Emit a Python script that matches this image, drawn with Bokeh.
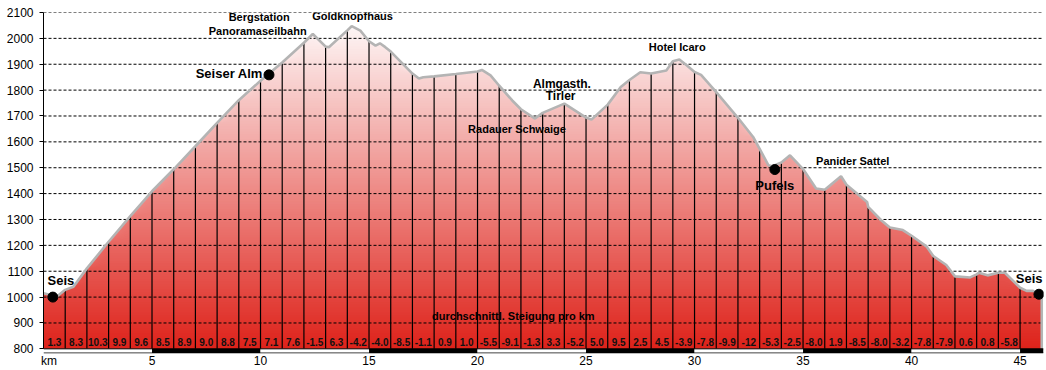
import numpy as np
from bokeh.plotting import figure
from bokeh.models import Range1d, FixedTicker
from bokeh.core.properties import value
from bokeh.embed import file_html
from bokeh.resources import INLINE

# ---------------- data ----------------
dist_km = [0, 0.62, 1, 1.38, 2, 3, 4, 5, 6, 7, 8, 9, 10, 11, 12, 12.41, 13, 13.15,
           14, 14.2, 14.6, 15, 15.3, 15.5, 15.75, 16, 17, 17.3, 17.5, 18, 19, 20,
           20.2, 20.6, 21, 21.6, 22, 22.65, 23, 24, 25, 25.25, 26, 26.6, 27, 27.5,
           28, 28.7, 29, 29.3, 29.65, 30, 30.3, 31, 32, 32.7, 33, 33.4, 33.6, 34,
           34.4, 35, 35.6, 36, 36.75, 37, 37.95, 38, 38.6, 39, 39.6, 40, 40.7, 41,
           41.6, 42, 42.7, 43, 43.1, 43.5, 44, 44.3, 45, 45.3, 45.6, 46.0]
elev_m = [1015, 1002, 1028, 1040, 1111, 1214, 1313, 1409, 1494, 1583, 1673, 1761,
          1836, 1907, 1983, 2017, 1968, 1966, 2031, 2047, 2030, 1989, 1972, 1981,
          1966, 1949, 1864, 1845, 1850, 1853, 1862, 1872, 1878, 1857, 1817, 1760,
          1726, 1690, 1712, 1748, 1694, 1686, 1744, 1812, 1839, 1869, 1864, 1876,
          1912, 1918, 1895, 1870, 1859, 1792, 1693, 1619, 1573, 1510, 1506, 1520,
          1548, 1495, 1420, 1415, 1467, 1434, 1368, 1349, 1297, 1269, 1259, 1237,
          1195, 1159, 1124, 1080, 1076, 1088, 1094, 1084, 1094, 1094, 1036, 1024,
          1024, 1008]

km_marks = list(range(1, 46))
km_mark_elev = [1028, 1111, 1214, 1313, 1409, 1494, 1583, 1673, 1761, 1836, 1907,
                1983, 1968, 2031, 1989, 1949, 1864, 1853, 1862, 1872, 1817, 1726,
                1712, 1748, 1694, 1744, 1839, 1864, 1912, 1870, 1792, 1693, 1573,
                1520, 1495, 1415, 1434, 1349, 1269, 1237, 1159, 1080, 1088, 1094, 1036]

grade_labels = ["1.3", "8.3", "10.3", "9.9", "9.6", "8.5", "8.9", "9.0", "8.8", "7.5",
                "7.1", "7.6", "-1.5", "6.3", "-4.2", "-4.0", "-8.5", "-1.1", "0.9", "1.0",
                "-5.5", "-9.1", "-1.3", "3.3", "-5.2", "5.0", "9.5", "2.5", "4.5", "-3.9",
                "-7.8", "-9.9", "-12", "-5.3", "-2.5", "-8.0", "1.9", "-8.5", "-8.0", "-3.2",
                "-7.8", "-7.9", "0.6", "0.8", "-5.8"]

y_ticks = list(range(800, 2101, 100))
x_ticks = [0.25, 5, 10, 15, 20, 25, 30, 35, 40, 45]
x_tick_labels = {0.25: "km"}

poi_km = [0.43, 10.39, 33.7, 45.87]
poi_elev = [1000, 1859, 1493, 1011]

label_text = ["Seis", "Seiser Alm", "Pufels", "Seis"]
label_km = [0.8, 8.56, 33.7, 45.42]
label_elev = [1066, 1866, 1432, 1070]

small_text = ["Bergstation", "Panoramaseilbahn", "Goldknopfhaus", "Hotel Icaro",
              "Radauer Schwaige", "Panider Sattel", "durchschnittl. Steigung pro km"]
small_km = [9.94, 9.87, 14.24, 29.2, 21.82, 37.29, 21.65]
small_elev = [2082, 2028, 2088, 1966, 1651, 1525, 927]

mid_text = ["Almgasth.", "Tirler"]
mid_km = [23.89, 23.83]
mid_elev = [1822, 1777]

X_END = 46.08
Y_MIN, Y_MAX = 782, 2100
BASE = 800
BAR_BOTTOM = 783.8

FONT = value("Liberation Sans")

p = figure(width=1046, height=370, output_backend="svg", toolbar_location=None,
           x_range=Range1d(0, X_END), y_range=Range1d(Y_MIN, Y_MAX),
           min_border_left=43, min_border_right=3, min_border_top=12,
           min_border_bottom=14)
p.outline_line_color = None
p.background_fill_color = "white"
p.border_fill_color = "white"
p.xgrid.visible = False
p.ygrid.visible = False

x = np.array(dist_km, dtype=float)
e = np.array(elev_m, dtype=float)

# gradient fill via elevation bands
bottom_rgb = np.array([222, 34, 26], dtype=float)
top_rgb = np.array([255, 255, 255], dtype=float)
step = 10
n_bands = int(np.ceil((e.max() - BASE) / step)) + 1
for k in range(n_bands - 1, -1, -1):
    upper = BASE + (k + 1) * step
    t = (BASE + (k + 0.5) * step - BASE) / (Y_MAX - BASE)
    c = bottom_rgb + (top_rgb - bottom_rgb) * t
    col = "#%02x%02x%02x" % tuple(int(round(v)) for v in c)
    p.varea(x=x, y1=np.full_like(x, BASE), y2=np.minimum(e, upper), fill_color=col)

# dashed grid
gl = [v for v in y_ticks if v > BASE]
p.segment(x0=[0] * len(gl), x1=[X_END] * len(gl), y0=gl, y1=gl,
          line_color="black", line_width=1, line_dash="3 2")

# km vertical lines
p.segment(x0=km_marks, x1=km_marks, y0=[BASE] * len(km_marks), y1=km_mark_elev,
          line_color="black", line_width=1.2)

# profile outline
p.line(x=list(x) + [x[-1]], y=list(e) + [BASE], line_color="#b4b4b4", line_width=2.6)

# scale bar below the axis (alternating 5 km blocks)
lefts = list(range(0, 46, 5))
rights = [min(l + 5, X_END) for l in lefts]
cols = ["white" if i % 2 == 0 else "black" for i in range(len(lefts))]
p.quad(left=lefts, right=rights, bottom=[BAR_BOTTOM] * len(lefts), top=[BASE] * len(lefts),
       fill_color=cols, line_color=None)
p.segment(x0=[0, 0], x1=[X_END, X_END], y0=[BASE, BAR_BOTTOM], y1=[BASE, BAR_BOTTOM],
          line_color="black", line_width=1)

# points of interest
p.scatter(x=poi_km, y=poi_elev, size=10, color="black")

# labels
p.text(x=label_km, y=label_elev, text=label_text, text_font=FONT, text_font_style="bold",
       text_font_size="13px", text_align="center", text_baseline="middle", text_color="black")
p.text(x=small_km, y=small_elev, text=small_text, text_font=FONT, text_font_style="bold",
       text_font_size="11px", text_align="center", text_baseline="middle", text_color="black")
p.text(x=mid_km, y=mid_elev, text=mid_text, text_font=FONT, text_font_style="bold",
       text_font_size="12px", text_align="center", text_baseline="middle", text_color="black")

# grade labels per km
grade_x = [k + 0.5 for k in range(len(grade_labels))]
p.text(x=grade_x, y=[828] * len(grade_x), text=grade_labels, text_font=FONT,
       text_font_style="bold", text_font_size="10px", text_align="center",
       text_baseline="middle", text_color="#111111")

# axes
p.yaxis.ticker = FixedTicker(ticks=y_ticks)
p.yaxis.bounds = (BASE, Y_MAX)
p.yaxis.major_tick_out = 4
p.yaxis.major_tick_in = 0
p.yaxis.minor_tick_line_color = None
p.yaxis.minor_tick_out = 0
p.yaxis.minor_tick_in = 0
p.yaxis.major_label_standoff = 6
p.yaxis.major_label_text_font = "Liberation Sans"
p.yaxis.major_label_text_font_size = "12px"
p.yaxis.major_label_text_color = "black"
p.yaxis.axis_line_color = "black"

p.xaxis.ticker = FixedTicker(ticks=x_ticks)
p.xaxis.major_label_overrides = x_tick_labels
p.xaxis.axis_line_color = None
p.xaxis.major_tick_line_color = None
p.xaxis.minor_tick_line_color = None
p.xaxis.major_tick_out = 0
p.xaxis.major_tick_in = 0
p.xaxis.minor_tick_out = 0
p.xaxis.minor_tick_in = 0
p.xaxis.major_label_standoff = 0
p.xaxis.major_label_text_font = "Liberation Sans"
p.xaxis.major_label_text_font_size = "12px"
p.xaxis.major_label_text_color = "black"

open("out.html", "w").write(file_html(p, INLINE))
